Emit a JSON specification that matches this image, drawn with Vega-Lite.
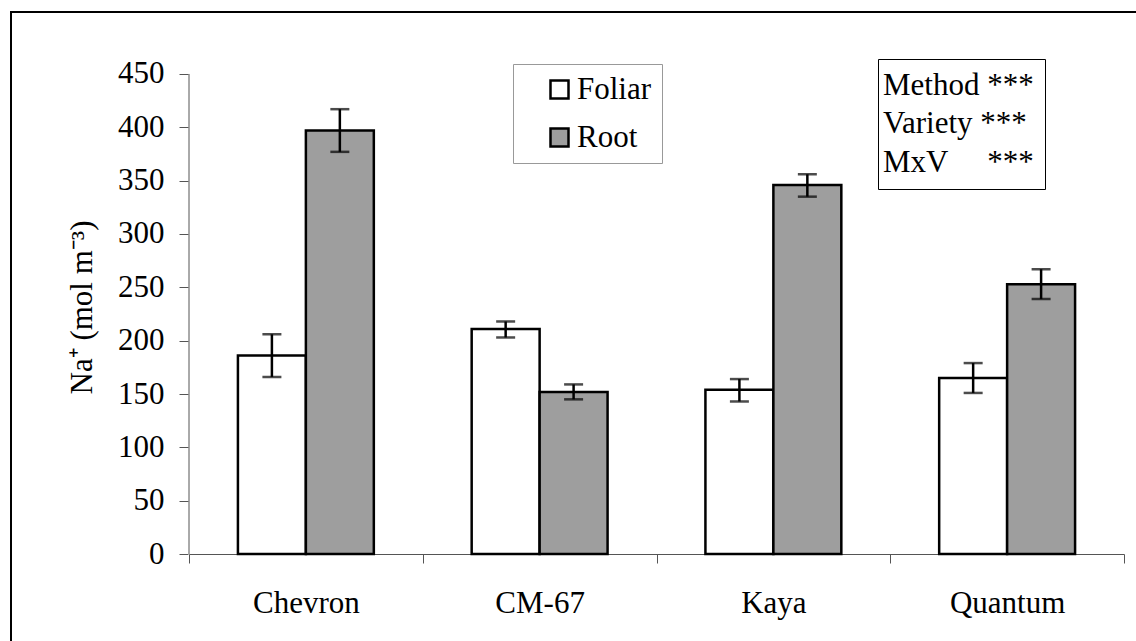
{
  "$schema": "https://vega.github.io/schema/vega-lite/v6.json",
  "autosize": "none",
  "width": 1127,
  "height": 631,
  "padding": {"left": 11, "top": 12, "right": 0, "bottom": 0},
  "background": "white",
  "config": {
    "view": {"stroke": "black", "strokeWidth": 2},
    "font": "Liberation Serif",
    "axis": {"grid": false},
    "legend": {"strokeWidth": 1}
  },
  "datasets": {
    "sodium": [
      {"variety": "Chevron", "method": "Foliar", "na": 186, "lo": 166, "hi": 206},
      {"variety": "Chevron", "method": "Root", "na": 397, "lo": 377, "hi": 417},
      {"variety": "CM-67", "method": "Foliar", "na": 211, "lo": 203, "hi": 218},
      {"variety": "CM-67", "method": "Root", "na": 152, "lo": 145, "hi": 159},
      {"variety": "Kaya", "method": "Foliar", "na": 154, "lo": 143, "hi": 164},
      {"variety": "Kaya", "method": "Root", "na": 346, "lo": 335, "hi": 356},
      {"variety": "Quantum", "method": "Foliar", "na": 165, "lo": 151, "hi": 179},
      {"variety": "Quantum", "method": "Root", "na": 253, "lo": 239, "hi": 267}
    ],
    "yline": [
      {"variety": "Chevron", "from": 0, "to": 450}
    ],
    "anova": [
      {"term": "Method ***"},
      {"term": "Variety ***"},
      {"term": "MxV\u00a0\u00a0\u00a0\u00a0\u00a0***"}
    ]
  },
  "layer": [
    {
      "data": {"name": "sodium"},
      "mark": {"type": "bar", "stroke": "black", "strokeWidth": 2.5},
      "encoding": {
        "x": {
          "field": "variety",
          "type": "nominal",
          "title": null,
          "sort": ["Chevron", "CM-67", "Kaya", "Quantum"],
          "scale": {"range": [178, 1113], "paddingInner": 0, "paddingOuter": 0},
          "axis": {
            "title": null,
            "labelAngle": 0,
            "tickBand": "extent",
            "offset": -89,
            "domainColor": "#555",
            "tickColor": "#555",
            "tickSize": 9,
            "labelPadding": 25,
            "labelFontSize": 31,
            "labelColor": "black"
          }
        },
        "xOffset": {
          "field": "method",
          "type": "nominal",
          "scale": {"paddingInner": 0, "paddingOuter": 0.72}
        },
        "y": {
          "field": "na",
          "type": "quantitative",
          "title": "Na⁺ (mol m⁻³)",
          "scale": {"domain": [-83.4, 508.1], "nice": false, "zero": false},
          "axis": {
            "title": "Na⁺ (mol m⁻³)",
            "values": [0, 50, 100, 150, 200, 250, 300, 350, 400, 450],
            "domain": false,
            "offset": -177,
            "tickColor": "#555",
            "tickSize": 9,
            "labelPadding": 15,
            "labelFontSize": 31,
            "labelColor": "black",
            "titleFontSize": 31,
            "titleFontWeight": "normal",
            "titleColor": "black",
            "titlePadding": 19,
            "titleY": 295
          }
        },
        "fill": {
          "field": "method",
          "type": "nominal",
          "scale": {"domain": ["Foliar", "Root"], "range": ["white", "#9e9e9e"]},
          "legend": {
            "orient": "none",
            "legendX": 502,
            "legendY": 52,
            "title": null,
            "direction": "vertical",
            "padding": 10,
            "symbolType": "square",
            "symbolSize": 324,
            "symbolStrokeColor": "black",
            "symbolStrokeWidth": 2.5,
            "symbolOffset": 21,
            "labelOffset": 2,
            "labelFontSize": 31,
            "labelColor": "black",
            "labelLimit": 400,
            "rowPadding": 16,
            "strokeColor": "#999",
            "fillColor": "white",
            "labelExpr": "datum.label + '\u00a0\u00a0\u00a0\u00a0\u00a0\u00a0'"
          }
        }
      }
    },
    {
      "data": {"name": "sodium"},
      "mark": {"type": "rule", "color": "black", "strokeWidth": 2.5},
      "encoding": {
        "x": {"field": "variety", "type": "nominal", "title": null, "sort": ["Chevron", "CM-67", "Kaya", "Quantum"]},
        "xOffset": {"field": "method", "type": "nominal"},
        "y": {"field": "lo", "type": "quantitative", "title": "Na⁺ (mol m⁻³)"},
        "y2": {"field": "hi", "title": "Na⁺ (mol m⁻³)"}
      }
    },
    {
      "data": {"name": "sodium"},
      "mark": {"type": "tick", "color": "black", "size": 19, "thickness": 2.5, "orient": "horizontal"},
      "encoding": {
        "x": {"field": "variety", "type": "nominal", "title": null, "sort": ["Chevron", "CM-67", "Kaya", "Quantum"]},
        "xOffset": {"field": "method", "type": "nominal"},
        "y": {"field": "lo", "type": "quantitative", "title": "Na⁺ (mol m⁻³)"}
      }
    },
    {
      "data": {"name": "sodium"},
      "mark": {"type": "tick", "color": "black", "size": 19, "thickness": 2.5, "orient": "horizontal"},
      "encoding": {
        "x": {"field": "variety", "type": "nominal", "title": null, "sort": ["Chevron", "CM-67", "Kaya", "Quantum"]},
        "xOffset": {"field": "method", "type": "nominal"},
        "y": {"field": "hi", "type": "quantitative", "title": "Na⁺ (mol m⁻³)"}
      }
    },
    {
      "data": {"name": "yline"},
      "mark": {"type": "rule", "color": "#555", "strokeWidth": 1},
      "encoding": {
        "x": {"field": "variety", "type": "nominal", "title": null, "sort": ["Chevron", "CM-67", "Kaya", "Quantum"], "bandPosition": 0},
        "y": {"field": "from", "type": "quantitative", "title": "Na⁺ (mol m⁻³)"},
        "y2": {"field": "to", "title": "Na⁺ (mol m⁻³)"}
      }
    },
    {
      "data": {"name": "anova"},
      "mark": {"type": "point", "size": 0, "opacity": 0},
      "encoding": {
        "shape": {
          "field": "term",
          "type": "nominal",
          "scale": {"domain": ["Method ***", "Variety ***", "MxV\u00a0\u00a0\u00a0\u00a0\u00a0***"]},
          "legend": {
            "orient": "none",
            "legendX": 867,
            "legendY": 47,
            "title": null,
            "padding": 11,
            "symbolSize": 0,
            "symbolOpacity": 0,
            "symbolStrokeWidth": 0,
            "labelOffset": -37,
            "labelFontSize": 31,
            "labelColor": "black",
            "labelLimit": 400,
            "rowPadding": 6.5,
            "strokeColor": "black",
            "fillColor": "white",
            "labelExpr": "datum.label + '\u00a0\u00a0'",
            "encode": {
              "legend": {"update": {"strokeWidth": {"value": 2.5}}}
            }
          }
        }
      }
    }
  ]
}
